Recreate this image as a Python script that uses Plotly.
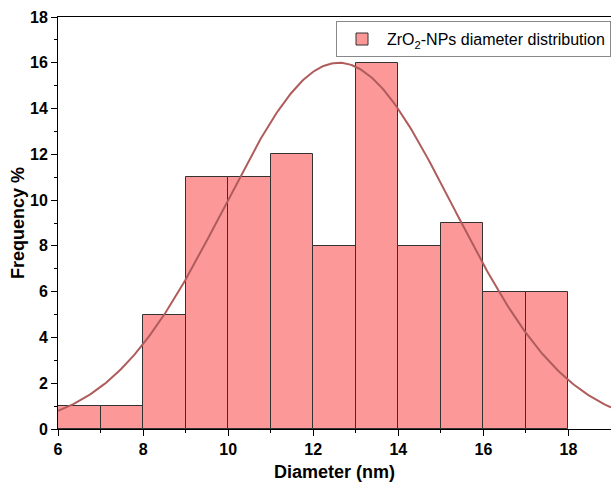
import numpy as np
import plotly.graph_objects as go

bin_left = [6, 7, 8, 9, 10, 11, 12, 13, 14, 15, 16, 17]
freq = [1, 1, 5, 11, 11, 12, 8, 16, 8, 9, 6, 6]
bin_width = 1.0

# Fitted normal curve parameters
fit_mean = 12.6
fit_sigma = 2.69
fit_peak = 16.0

x_fit = np.linspace(6, 19, 300)
y_fit = fit_peak * np.exp(-((x_fit - fit_mean) ** 2) / (2 * fit_sigma ** 2))

centers = [b + bin_width / 2 for b in bin_left]

fig = go.Figure()
fig.add_trace(go.Bar(
    x=centers, y=freq, width=[bin_width] * len(freq),
    marker=dict(color="#FC9898", line=dict(color="#333333", width=1)),
    name="ZrO<sub>2</sub>-NPs diameter distribution",
    showlegend=True,
))
fig.add_trace(go.Scatter(
    x=x_fit, y=y_fit, mode="lines",
    line=dict(color="#B05C5C", width=2),
    showlegend=False, hoverinfo="skip",
))

font_family = "Liberation Sans, Arial, sans-serif"
fig.update_layout(
    width=611, height=489,
    margin=dict(l=58, r=0, t=17, b=60),
    paper_bgcolor="white", plot_bgcolor="white",
    bargap=0,
    font=dict(family=font_family, color="black"),
    legend=dict(
        x=1, y=0.99, xanchor="right", yanchor="top",
        bgcolor="white", bordercolor="#888888", borderwidth=1,
        font=dict(size=16, family=font_family),
        itemwidth=40,
    ),
    xaxis=dict(
        range=[6, 19], tick0=6, dtick=2,
        ticks="outside", ticklen=6, tickwidth=1, tickcolor="black",
        showline=True, linecolor="black", linewidth=1, mirror=True,
        showgrid=False, zeroline=False,
        tickfont=dict(size=16, family=font_family, weight="bold"),
        minor=dict(dtick=1, ticks="outside", ticklen=3, tickcolor="black", showgrid=False),
        title=dict(text="<b>Diameter (nm)</b>", font=dict(size=18, family=font_family), standoff=8),
    ),
    yaxis=dict(
        range=[0, 18], tick0=0, dtick=2,
        ticks="outside", ticklen=6, tickwidth=1, tickcolor="black",
        showline=True, linecolor="black", linewidth=1, mirror=True,
        showgrid=False, zeroline=False,
        tickfont=dict(size=16, family=font_family, weight="bold"),
        minor=dict(dtick=1, ticks="outside", ticklen=3, tickcolor="black", showgrid=False),
        title=dict(text="<b>Frequency %</b>", font=dict(size=18, family=font_family), standoff=0),
    ),
)

fig.write_html("out.html")
